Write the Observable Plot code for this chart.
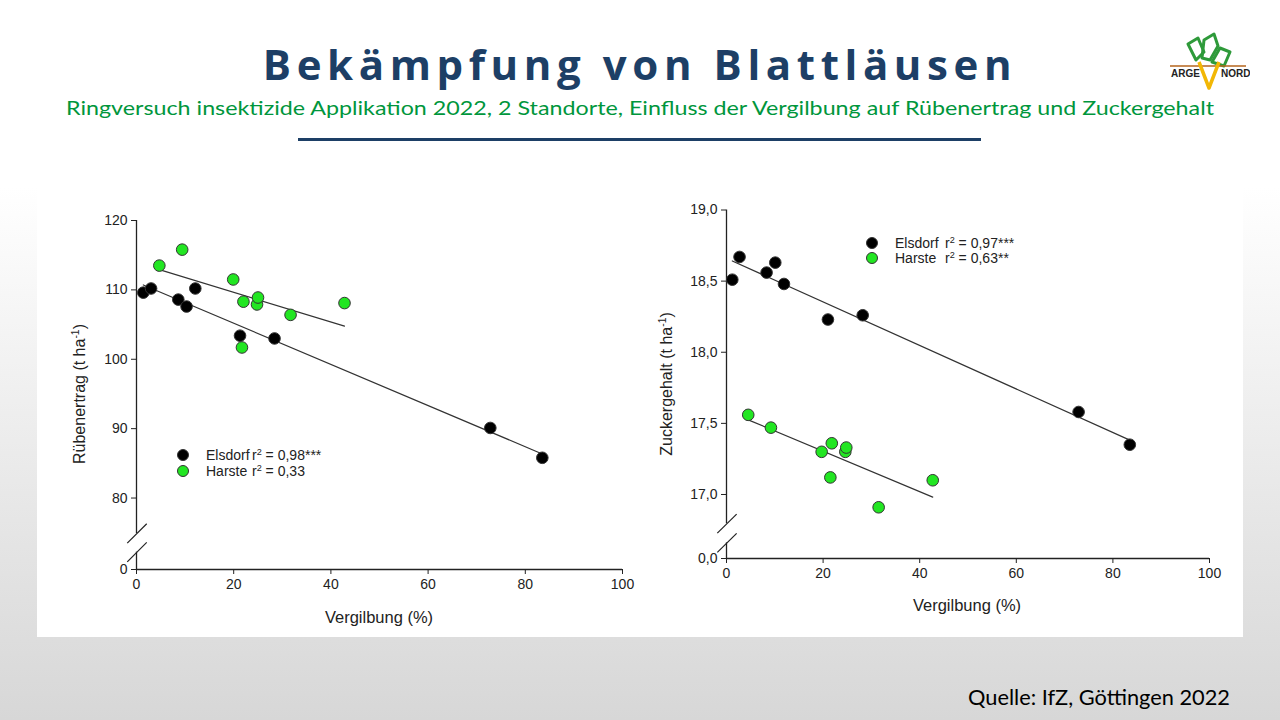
<!DOCTYPE html>
<html>
<head>
<meta charset="utf-8">
<script src="https://cdn.jsdelivr.net/npm/d3@7"></script>
<script src="https://cdn.jsdelivr.net/npm/@observablehq/plot@0.6"></script>
<style>
html,body{margin:0;padding:0;}
body{width:1280px;height:720px;position:relative;overflow:hidden;
  background:linear-gradient(to bottom,#ffffff 0%,#ffffff 26%,#d7d7d7 100%);
  font-family:"Liberation Sans",Arial,sans-serif;}
.abs{position:absolute;white-space:nowrap;}
#title{left:0;top:39px;width:1280px;text-align:center;font-family:"Open Sans";font-weight:700;
  font-size:42px;letter-spacing:5.6px;color:#1d3f66;line-height:1.2;}
#subtitle{font-family:"Lato";font-size:20px;color:#00963c;line-height:1;transform-origin:0 0;}
#rule{left:298px;top:138px;width:683px;height:3px;background:#1d3f66;}
#panel{left:37px;top:188px;width:1206px;height:449px;background:#fff;}
#source{font-family:"Lato";font-size:21px;color:#000;line-height:1;transform-origin:0 0;}
.chart{position:absolute;top:188px;}
.lblx{font-size:16.5px;color:#222;}
.lbly{font-size:16px;color:#222;}
.leg{font-size:14px;color:#222;line-height:1;}
.dot{position:absolute;width:10px;height:10px;border-radius:50%;border:1px solid #333;}
sup{font-size:65%;line-height:0;vertical-align:0.55em;}
</style>
</head>
<body>
<div id="title" class="abs">Bekämpfung von Blattläusen</div>
<div id="subtitle" class="abs">Ringversuch insektizide Applikation 2022, 2 Standorte, Einfluss der Vergilbung auf Rübenertrag und Zuckergehalt</div>
<div id="rule" class="abs"></div>
<div id="panel" class="abs"></div>
<svg class="abs" style="left:1166px;top:30px" width="84" height="62" viewBox="0 0 84 62">
  <g fill="none" stroke="#2e9a3a" stroke-width="3" stroke-linejoin="round">
    <path d="M30 30 L22 14 L32 8 L38 22 Z"/>
    <path d="M36 28 L38 10 L48 4 L52 16 L44 30 Z"/>
    <path d="M46 32 L54 18 L64 22 L58 36 Z"/>
  </g>
  <line x1="4" y1="36" x2="80" y2="36" stroke="#b5651d" stroke-width="1.5"/>
  <path d="M33 32 L43 58 L53 32" fill="none" stroke="#f2b705" stroke-width="3.5" stroke-linejoin="round"/>
  <text x="5" y="47" font-family="Liberation Sans" font-weight="700" font-size="10" fill="#222">ARGE</text>
  <text x="55" y="47" font-family="Liberation Sans" font-weight="700" font-size="10" fill="#222">NORD</text>
</svg>
<div id="source" class="abs">Quelle: IfZ, Göttingen 2022</div>

<script>
// ---------- data ----------
const xTicks = [0, 20, 40, 60, 80, 100];
const siteNames = ["Elsdorf", "Harste"];
const siteColors = ["#000000", "#22e622"];

// Rübenertrag (left chart)
const elsdorfVergilbungL = [1.4, 3.0, 8.6, 10.3, 12.1, 21.3, 28.4, 72.8, 83.5];
const elsdorfErtrag      = [109.6, 110.2, 108.6, 107.6, 110.2, 103.4, 103.0, 90.1, 85.8];
const harsteVergilbungL  = [4.7, 9.4, 19.9, 22.0, 21.7, 24.8, 25.0, 31.7, 42.8];
const harsteErtrag       = [113.5, 115.8, 111.5, 108.3, 101.7, 107.9, 108.9, 106.4, 108.1];
const ertragTicks = [80, 90, 100, 110, 120];
const ertragR2 = ["r² = 0,98***", "r² = 0,33"];

// Zuckergehalt (right chart)
const elsdorfVergilbungR = [1.2, 2.7, 8.3, 10.1, 11.9, 21.0, 28.2, 72.9, 83.5];
const elsdorfZucker      = [18.51, 18.67, 18.56, 18.63, 18.48, 18.23, 18.26, 17.58, 17.35];
const harsteVergilbungR  = [4.5, 9.2, 19.7, 21.8, 21.5, 24.6, 24.8, 31.5, 42.7];
const harsteZucker       = [17.56, 17.47, 17.30, 17.36, 17.12, 17.30, 17.33, 16.91, 17.10];
const zuckerTicks = [17.0, 17.5, 18.0, 18.5, 19.0];
const zuckerR2 = ["r² = 0,97***", "r² = 0,63**"];

// ---------- helpers ----------
function fitWidth(el, target) {
  const w = el.getBoundingClientRect().width;
  el.style.transform = `scaleX(${target / w})`;
}
function place(html, cls, x, y, rot) {
  const d = document.createElement("div");
  d.className = "abs " + cls;
  d.innerHTML = html;
  d.style.left = x + "px";
  d.style.top = y + "px";
  d.style.transform = `translate(-50%,-50%)` + (rot ? ` rotate(${rot}deg)` : "");
  document.body.appendChild(d);
}
function legend(dotX, ys, nameX, r2X, r2) {
  ys.forEach((y, i) => {
    const dot = document.createElement("div");
    dot.className = "dot";
    dot.style.left = (dotX - 6) + "px";
    dot.style.top = (y - 6) + "px";
    dot.style.background = siteColors[i];
    document.body.appendChild(dot);
    const n = document.createElement("div");
    n.className = "abs leg";
    n.textContent = siteNames[i];
    n.style.left = nameX + "px"; n.style.top = (y - 7) + "px";
    document.body.appendChild(n);
    const t = document.createElement("div");
    t.className = "abs leg";
    t.innerHTML = r2[i].replace("²", "<sup>2</sup>");
    t.style.left = r2X + "px"; t.style.top = (y - 7) + "px";
    document.body.appendChild(t);
  });
}

function chart(o) {
  const els = o.elsX.map((x, i) => ({x, y: o.elsY[i]}));
  const har = o.harX.map((x, i) => ({x, y: o.harY[i]}));
  const yMax = o.ticks[o.ticks.length - 1];
  const segs = [{y1: o.brkHi, y2: yMax}, {y1: o.zero, y2: o.brkLo}];
  const slashes = [o.brkHi, o.brkLo].map(c => ({x1: -1.9, x2: 2.1, y1: c - o.slashH, y2: c + o.slashH}));
  const svg = Plot.plot({
    width: o.width, height: o.height,
    marginLeft: o.mL, marginRight: o.mR, marginTop: o.mT, marginBottom: o.mB,
    style: {fontFamily: "Liberation Sans, Arial, sans-serif", fontSize: "14px", color: "#222", background: "transparent", overflow: "visible"},
    x: {domain: [0, 100], ticks: xTicks, tickSize: 5, tickPadding: 5, label: null},
    y: {domain: [o.zero, yMax], ticks: [o.zero, ...o.ticks],
        tickFormat: d => d === o.zero ? o.zeroLabel : o.fmt(d), tickSize: 5, tickPadding: 4, label: null},
    marks: [
      Plot.ruleY([o.zero], {stroke: "#222", strokeWidth: 1.3}),
      Plot.ruleX(segs, {x: 0, y1: "y1", y2: "y2", stroke: "#222", strokeWidth: 1.3}),
      Plot.link(slashes, {x1: "x1", y1: "y1", x2: "x2", y2: "y2", stroke: "#222", strokeWidth: 1.2}),
      Plot.linearRegressionY(els, {x: "x", y: "y", ci: 0, stroke: "#333", strokeWidth: 1.2}),
      Plot.linearRegressionY(har, {x: "x", y: "y", ci: 0, stroke: "#333", strokeWidth: 1.2}),
      Plot.dot(els, {x: "x", y: "y", r: 5.8, fill: siteColors[0], stroke: "#333", strokeWidth: 1}),
      Plot.dot(har, {x: "x", y: "y", r: 5.8, fill: siteColors[1], stroke: "#333", strokeWidth: 1})
    ]
  });
  svg.classList.add("chart");
  svg.style.left = o.left + "px";
  document.body.appendChild(svg);
}

const fmt1 = d3.format(".1f");
const comma = d => fmt1(d).replace(".", ",");

chart({
  left: 37, width: 600, height: 449, mL: 99, mR: 15, mT: 32, mB: 68,
  elsX: elsdorfVergilbungL, elsY: elsdorfErtrag, harX: harsteVergilbungL, harY: harsteErtrag,
  ticks: ertragTicks, zero: 69.7, zeroLabel: "0", brkHi: 74.9, brkLo: 72.2, slashH: 1.4,
  fmt: d => String(d)
});
chart({
  left: 640, width: 603, height: 449, mL: 86, mR: 34, mT: 21.5, mB: 79,
  elsX: elsdorfVergilbungR, elsY: elsdorfZucker, harX: harsteVergilbungR, harY: harsteZucker,
  ticks: zuckerTicks, zero: 16.55, zeroLabel: "0,0", brkHi: 16.795, brkLo: 16.66, slashH: 0.067,
  fmt: comma
});

// axis titles
place("Rübenertrag (t ha<sup>-1</sup>)", "lbly", 80, 394, -90);
place("Vergilbung (%)", "lblx", 379, 617, 0);
place("Zuckergehalt (t ha<sup>-1</sup>)", "lbly", 667, 384, -90);
place("Vergilbung (%)", "lblx", 967, 605, 0);

// legends
legend(183, [454.5, 470.7], 206, 252, ertragR2);
legend(872, [243.3, 258], 895, 945, zuckerR2);

// header / footer layout
const sub = document.getElementById("subtitle");
sub.style.left = "66px"; sub.style.top = "97px";
fitWidth(sub, 1148);
const src = document.getElementById("source");
src.style.left = "968px"; src.style.top = "686px";
fitWidth(src, 262);
</script>
</body>
</html>
